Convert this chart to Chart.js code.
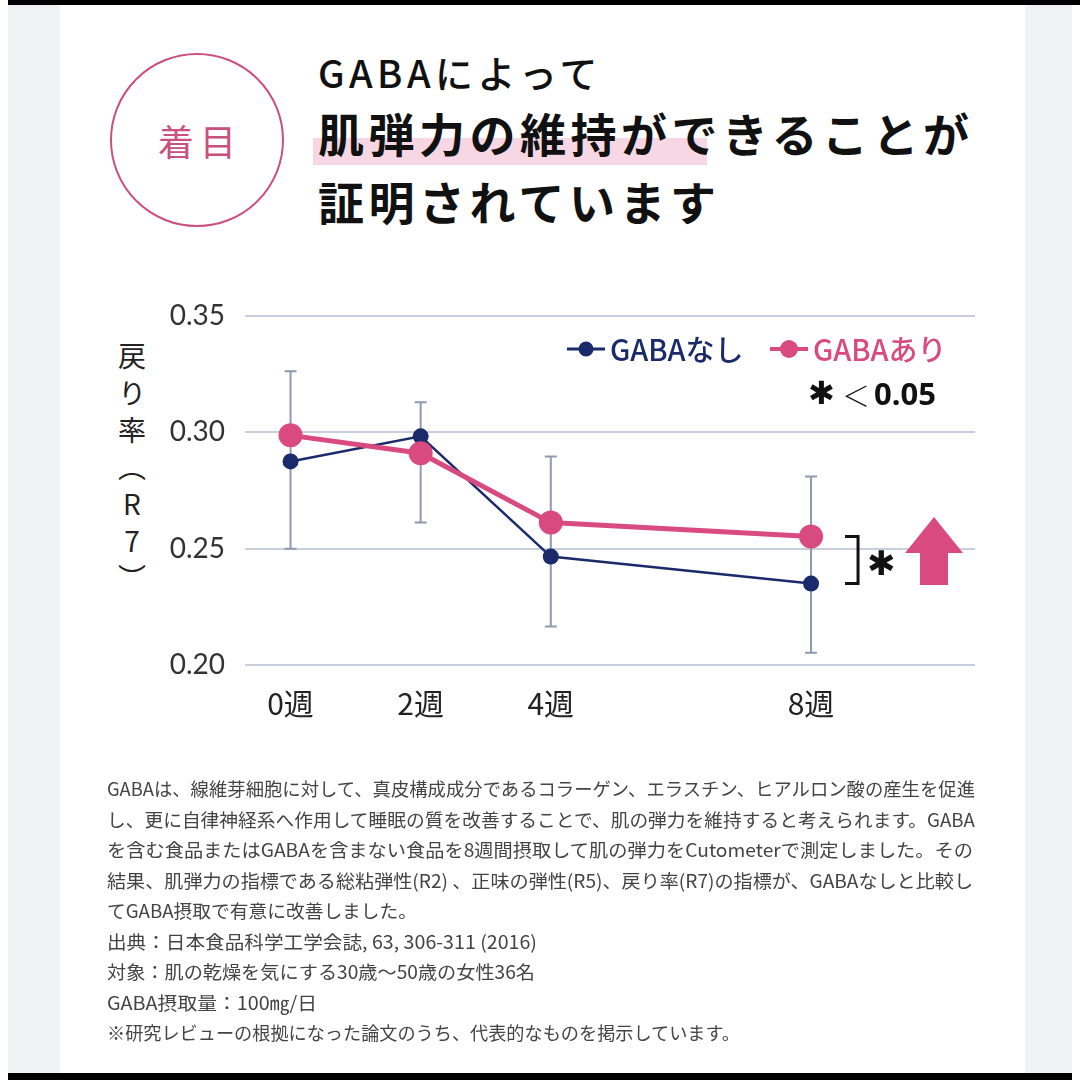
<!DOCTYPE html>
<html lang="ja">
<head>
<meta charset="utf-8">
<script src="https://cdn.jsdelivr.net/npm/chart.js@4.4.1/dist/chart.umd.min.js"></script>
<style>
html, body { margin: 0; padding: 0; background: #fff; }
#page { position: relative; width: 1080px; height: 1080px; overflow: hidden; background: #fff; font-family: "Noto Sans CJK JP", sans-serif; }
.abs { position: absolute; }
#topbar { left: 8px; top: 0; width: 1072px; height: 5px; background: #000; }
#botbar { left: 8px; top: 1073px; width: 1064px; height: 7px; background: #000; }
#sideL { left: 8px; top: 5px; width: 52px; height: 1068px; background: #f1f2f6; }
#sideR { left: 1025px; top: 5px; width: 47px; height: 1068px; background: #f1f2f6; }
#badge { left: 110px; top: 53px; width: 174px; height: 174px; border: 2px solid #c9507f; border-radius: 50%;
  color: #c9507f; font-size: 36px; letter-spacing: 6px; display: flex; align-items: center; justify-content: center; padding-left: 6px; box-sizing: border-box; }
#hl { left: 313px; top: 138px; width: 394px; height: 27px; background: #f6d7e3; }
.title { left: 318px; color: #111; white-space: nowrap; }
#t1 { top: 48px; font-size: 38px; font-weight: 500; letter-spacing: 4.5px; line-height: 48px; }
#t2 { top: 104px; font-size: 46px; font-weight: 700; letter-spacing: 4.5px; line-height: 56px; }
#t3 { top: 172px; font-size: 46px; font-weight: 700; letter-spacing: 4.5px; line-height: 56px; }
#ytitle { left: 112px; top: 342px; font-size: 28px; color: #222; writing-mode: vertical-rl; text-orientation: upright; letter-spacing: 9px; }
#body { left: 107px; top: 773px; font-size: 18.5px; line-height: 30.5px; color: #444; white-space: nowrap; }
#body div { transform-origin: left center; width: max-content; }
canvas { position: absolute; left: 0; top: 0; }
</style>
</head>
<body>
<div id="page">
  <div class="abs" id="sideL"></div>
  <div class="abs" id="sideR"></div>
  <div class="abs" id="topbar"></div>
  <div class="abs" id="botbar"></div>
  <div class="abs" id="badge">着目</div>
  <div class="abs" id="hl"></div>
  <div class="abs title" id="t1">GABAによって</div>
  <div class="abs title" id="t2">肌弾力の維持ができることが</div>
  <div class="abs title" id="t3">証明されています</div>
  <div class="abs" id="ytitle">戻り率（R7）</div>
  <canvas id="chart" width="1080" height="1080"></canvas>
  <div class="abs" id="body">
    <div data-w="868">GABAは、線維芽細胞に対して、真皮構成成分であるコラーゲン、エラスチン、ヒアルロン酸の産生を促進</div>
    <div data-w="868">し、更に自律神経系へ作用して睡眠の質を改善することで、肌の弾力を維持すると考えられます。GABA</div>
    <div data-w="866">を含む食品またはGABAを含まない食品を8週間摂取して肌の弾力をCutometerで測定しました。その</div>
    <div data-w="866">結果、肌弾力の指標である総粘弾性(R2) 、正味の弾性(R5)、戻り率(R7)の指標が、GABAなしと比較し</div>
    <div data-w="310">てGABA摂取で有意に改善しました。</div>
    <div data-w="430">出典：日本食品科学工学会誌, 63, 306-311 (2016)</div>
    <div data-w="428">対象：肌の乾燥を気にする30歳〜50歳の女性36名</div>
    <div data-w="210">GABA摂取量：100㎎/日</div>
    <div data-w="633">※研究レビューの根拠になった論文のうち、代表的なものを掲示しています。</div>
  </div>
</div>
<script>
// data
const weeks = [0, 2, 4, 8];
const weekLabels = ['0週', '2週', '4週', '8週'];
const yTicks = [0.20, 0.25, 0.30, 0.35];
const gabaNone = [0.2875, 0.2983, 0.2466, 0.2350];
const gabaWith = [0.2987, 0.2910, 0.2612, 0.2552];
const errHigh = [0.3262, 0.3129, 0.2896, 0.2810];
const errLow = [0.2500, 0.2612, 0.2166, 0.2053];

const NAVY = '#1b2a6b';
const PINK = '#d94b80';

// fit body text lines to their widths
document.querySelectorAll('#body div').forEach(d => {
    const w = Number(d.dataset.w);
    const r = d.getBoundingClientRect().width;
    if (r > 0) d.style.transform = `scaleX(${w / r})`;
});

const overlay = {
    id: 'overlay',
    beforeDatasetsDraw(chart) {
        const { ctx, scales: { x, y } } = chart;
        ctx.save();
        ctx.strokeStyle = '#8f9ab2';
        ctx.lineWidth = 2;
        weeks.forEach((w, i) => {
            const px = x.getPixelForValue(w);
            const y1 = y.getPixelForValue(errHigh[i]);
            const y2 = y.getPixelForValue(errLow[i]);
            ctx.beginPath();
            ctx.moveTo(px, y1); ctx.lineTo(px, y2);
            ctx.moveTo(px - 6, y1); ctx.lineTo(px + 6, y1);
            ctx.moveTo(px - 6, y2); ctx.lineTo(px + 6, y2);
            ctx.stroke();
        });
        ctx.restore();
    },
    afterDatasetsDraw(chart) {
        const { ctx, scales: { x, y } } = chart;
        ctx.save();
        // legend
        const legend = [
            { label: 'GABAなし', color: NAVY, x0: 567, r: 7.5, lw: 3 },
            { label: 'GABAあり', color: PINK, x0: 770, r: 9, lw: 4 }
        ];
        ctx.textBaseline = 'middle';
        legend.forEach(l => {
            ctx.strokeStyle = l.color;
            ctx.fillStyle = l.color;
            ctx.lineWidth = l.lw;
            ctx.beginPath();
            ctx.moveTo(l.x0, 349); ctx.lineTo(l.x0 + 38, 349);
            ctx.stroke();
            ctx.beginPath();
            ctx.arc(l.x0 + 19, 349, l.r, 0, Math.PI * 2);
            ctx.fill();
            ctx.font = '500 29px "Noto Sans CJK JP"';
            ctx.fillText(l.label, l.x0 + 43, 350);
        });
        // significance note
        ctx.fillStyle = '#111';
        ctx.font = '32px "DejaVu Sans"';
        ctx.fillText('✱', 808, 396);
        ctx.font = '300 28px "Noto Sans CJK JP"';
        ctx.fillText('＜', 842, 396);
        ctx.font = '700 31px "Noto Sans"';
        ctx.fillText('0.05', 874, 396);

        // bracket between the 8-week values
        const last = weeks.length - 1;
        const bx = x.getPixelForValue(weeks[last]) + 34;
        const yTop = y.getPixelForValue(gabaWith[last]);
        const yBot = y.getPixelForValue(gabaNone[last]);
        ctx.strokeStyle = '#111';
        ctx.lineWidth = 3;
        ctx.beginPath();
        ctx.moveTo(bx, yTop); ctx.lineTo(bx + 13, yTop); ctx.lineTo(bx + 13, yBot); ctx.lineTo(bx, yBot);
        ctx.stroke();
        ctx.fillStyle = '#111';
        ctx.font = '34px "DejaVu Sans"';
        ctx.fillText('✱', bx + 22, (yTop + yBot) / 2 + 6);

        // up arrow
        ctx.fillStyle = PINK;
        ctx.beginPath();
        ctx.moveTo(934, 517);
        ctx.lineTo(963, 553);
        ctx.lineTo(948, 553);
        ctx.lineTo(948, 585);
        ctx.lineTo(920, 585);
        ctx.lineTo(920, 553);
        ctx.lineTo(905, 553);
        ctx.closePath();
        ctx.fill();
        ctx.restore();
    }
};

new Chart(document.getElementById('chart'), {
    type: 'line',
    data: {
        datasets: [
            {
                label: 'GABAなし',
                data: weeks.map((w, i) => ({ x: w, y: gabaNone[i] })),
                borderColor: NAVY,
                backgroundColor: NAVY,
                borderWidth: 2.5,
                pointRadius: 8,
                pointBorderWidth: 0,
                tension: 0,
                order: 2
            },
            {
                label: 'GABAあり',
                data: weeks.map((w, i) => ({ x: w, y: gabaWith[i] })),
                borderColor: PINK,
                backgroundColor: PINK,
                borderWidth: 5,
                pointRadius: 12,
                pointBorderWidth: 0,
                tension: 0,
                order: 1
            }
        ]
    },
    options: {
        responsive: false,
        animation: false,
        layout: { padding: { left: 150, right: 105, top: 316, bottom: 345 } },
        plugins: { legend: { display: false }, tooltip: { enabled: false } },
        scales: {
            x: {
                type: 'linear',
                min: -0.7,
                max: 10.52,
                afterFit(s) { s.height = 70; },
                afterBuildTicks(s) { s.ticks = weeks.map(v => ({ value: v })); },
                grid: { display: false },
                border: { display: false },
                ticks: {
                    padding: 13,
                    color: '#222',
                    font: { family: '"Noto Sans CJK JP"', size: 30 },
                    callback: (v) => weekLabels[weeks.indexOf(v)]
                }
            },
            y: {
                min: 0.20,
                max: 0.35,
                afterFit(s) { s.width = 95; },
                afterBuildTicks(s) { s.ticks = yTicks.map(v => ({ value: v })); },
                grid: { color: '#c9cede', lineWidth: 2, drawTicks: false },
                border: { display: false },
                ticks: {
                    padding: 20,
                    color: '#333',
                    font: { family: 'Lato', size: 28 },
                    callback: (v) => v.toFixed(2)
                }
            }
        }
    },
    plugins: [overlay]
});
</script>
</body>
</html>
